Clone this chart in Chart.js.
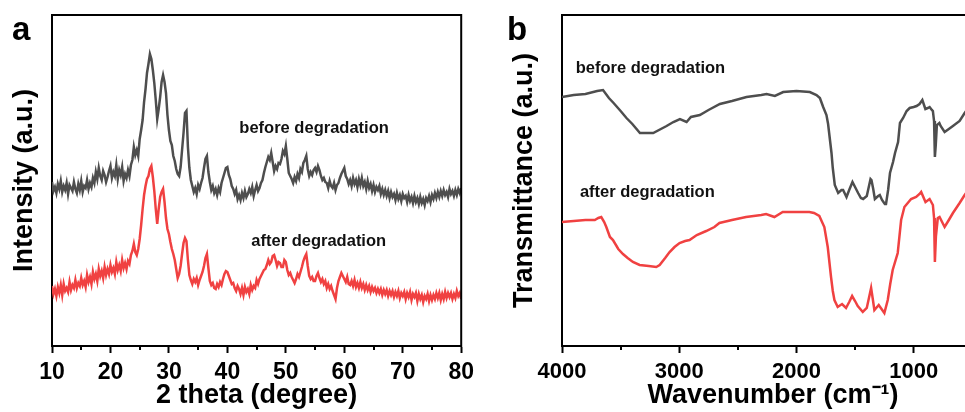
<!DOCTYPE html>
<html><head><meta charset="utf-8">
<script src="https://cdn.jsdelivr.net/npm/chart.js@4.4.0/dist/chart.umd.min.js"></script>
<style>
html,body{margin:0;padding:0;width:965px;height:412px;overflow:hidden;background:#fff;}
#ca{position:absolute;left:0;top:0;}
#cb{position:absolute;left:480px;top:0;}
</style></head><body>
<canvas id="ca" width="480" height="412"></canvas>
<canvas id="cb" width="520" height="412"></canvas>
<script>
// ---------- Panel a: XRD (2 theta sampled every 0.25 degree) ----------
const xrdTheta = [
10,10.25,10.5,10.75,11,11.25,11.5,11.75,12,12.25,12.5,12.75,13,13.25,13.5,13.75,14,14.25,14.5,14.75,
15,15.25,15.5,15.75,16,16.25,16.5,16.75,17,17.25,17.5,17.75,18,18.25,18.5,18.75,19,19.25,19.5,19.75,
20,20.25,20.5,20.75,21,21.25,21.5,21.75,22,22.25,22.5,22.75,23,23.25,23.5,23.75,24,24.25,24.5,24.75,
25,25.25,25.5,25.75,26,26.25,26.5,26.75,27,27.25,27.5,27.75,28,28.25,28.5,28.75,29,29.25,29.5,29.75,
30,30.25,30.5,30.75,31,31.25,31.5,31.75,32,32.25,32.5,32.75,33,33.25,33.5,33.75,34,34.25,34.5,34.75,
35,35.25,35.5,35.75,36,36.25,36.5,36.75,37,37.25,37.5,37.75,38,38.25,38.5,38.75,39,39.25,39.5,39.75,
40,40.25,40.5,40.75,41,41.25,41.5,41.75,42,42.25,42.5,42.75,43,43.25,43.5,43.75,44,44.25,44.5,44.75,
45,45.25,45.5,45.75,46,46.25,46.5,46.75,47,47.25,47.5,47.75,48,48.25,48.5,48.75,49,49.25,49.5,49.75,
50,50.25,50.5,50.75,51,51.25,51.5,51.75,52,52.25,52.5,52.75,53,53.25,53.5,53.75,54,54.25,54.5,54.75,
55,55.25,55.5,55.75,56,56.25,56.5,56.75,57,57.25,57.5,57.75,58,58.25,58.5,58.75,59,59.25,59.5,59.75,
60,60.25,60.5,60.75,61,61.25,61.5,61.75,62,62.25,62.5,62.75,63,63.25,63.5,63.75,64,64.25,64.5,64.75,
65,65.25,65.5,65.75,66,66.25,66.5,66.75,67,67.25,67.5,67.75,68,68.25,68.5,68.75,69,69.25,69.5,69.75,
70,70.25,70.5,70.75,71,71.25,71.5,71.75,72,72.25,72.5,72.75,73,73.25,73.5,73.75,74,74.25,74.5,74.75,
75,75.25,75.5,75.75,76,76.25,76.5,76.75,77,77.25,77.5,77.75,78,78.25,78.5,78.75,79,79.25,79.5,79.75,
80];
const xrdBefore = [
164,155,159,153, 162,157,165,154, 160,156,163,152, 161,158,155,164, 157,153,162,156,
165,154,160,158, 166,157,163,159, 168,163,174,167, 178,170,166,175, 171,164,169,175,
180,168,174,170, 181,167,176,171, 179,165,172,168, 176,170,181,186, 199,191,196,190,
207,216,226,244, 257,273,282,292, 287,276,263,246, 227,237,249,264, 271,264,253,231,
216,205,201,190, 185,177,172,170, 179,196,213,233, 235,199,178,166, 160,154,158,152,
161,157,163,168, 178,187,190,174, 164,156,160,153, 157,151,158,154, 163,168,173,178,
179,171,167,160, 157,152,156,147, 151,146,153,148, 155,149,152,157, 153,159,150,156,
161,155,158,163, 166,173,179,184, 189,186,193,184, 175,180,177,183, 182,187,195,192,
200,187,173,170, 167,163,169,165, 172,168,177,174, 183,186,190,177, 170,174,171,176,
178,174,180,176, 170,166,168,164, 163,158,165,160, 158,163,156,161, 163,168,172,175,
178,170,167,162, 166,160,168,162, 166,159,167,161, 168,160,164,157, 165,158,162,155,
161,154,159,156, 160,152,157,151, 156,150,155,148, 154,149,152,146, 153,147,151,145,
152,148,150,144, 151,145,149,143, 150,144,148,142, 149,143,147,141, 148,145,150,144,
151,147,153,148, 154,149,155,150, 156,151,154,149, 157,152,155,150, 156,151,157,153,
158];
const xrdAfter = [
60,52,57,50, 59,53,61,51, 62,55,58,54, 64,56,61,58, 66,58,63,60,
68,61,65,59, 71,64,69,62, 74,67,72,65, 77,70,75,68, 79,71,77,72,
81,74,78,72, 84,76,81,75, 86,78,83,77, 85,82,91,95, 102,94,91,97,
107,121,137,151, 160,167,170,177, 180,169,155,137, 122,137,149,154, 157,144,128,117,
112,104,97,92, 86,77,68,72, 80,92,103,108, 105,86,71,66, 62,67,64,68,
61,66,70,74, 80,88,92,78, 65,61,63,58, 57,62,59,64, 61,67,72,75,
74,70,66,62, 63,58,55,60, 57,52,58,51, 59,54,57,52, 61,56,60,58,
66,62,67,70, 73,76,77,81, 86,82,84,90, 91,86,80,84, 83,79,79,86,
84,76,71,73, 69,66,63,67, 72,69,74,79, 85,89,92,80, 70,67,69,65,
65,70,73,68, 64,67,62,65, 58,62,57,60, 55,51,47,58, 65,69,73,70,
67,64,69,62, 61,65,60,66, 59,63,58,64, 58,62,56,61, 56,60,54,59,
55,58,53,57, 53,57,51,56, 52,56,50,55, 51,55,49,54, 50,55,48,53,
50,54,47,53, 49,54,46,52, 49,53,45,52, 47,51,44,50, 47,52,45,51,
46,51,47,53, 48,53,46,52, 47,54,48,53, 49,53,47,52, 48,55,50,53,
47];
const xrdTicks = [10,20,30,40,50,60,70,80];
const xrdMinorTicks = [15,25,35,45,55,65,75];

// ---------- Panel b: FTIR ----------
const ftirWaveBefore = [4000,3900,3800,3700,3650,3600,3560,3500,3450,3400,3335,3222,3108,3050,2994,2937,2900,2824,2750,2653,
2550,2426,2300,2255,2184,2113,2000,1886,1829,1800,1772,1744,1730,1701,1690,1673,1644,1616,1602,1573,
1550,1522,1500,1474,1450,1431,1400,1368,1360,1345,1331,1303,1289,1270,1246,1236,1218,1202,1176,1159,
1133,1117,1090,1060,1034,1000,975,950,926,900,880,864,845,836,826,819,812,802,781,770,
736,700,665,608,565,540];
const ftirBefore = [249,251,252,255,256,248,243,235,228,222,213,213,220,224,227,224,229,231,236,242,
245,249,251,252,250,254,255,254,251,248,239,231,222,193,178,161,153,156,156,149,
156,164,159,153,148,147,150,167,166,157,147,150,151,146,142,142,156,173,184,193,
204,223,228,235,238,239,240,242,246,237,238,239,236,235,225,189,200,221,223,220,
214,217,220,225,233,237];
const ftirWaveAfter = [4000,3900,3800,3720,3690,3665,3640,3622,3591,3565,3520,3480,3440,3395,3338,3260,3196,3167,3120,3082,
3040,2997,2950,2912,2850,2770,2700,2657,2550,2430,2300,2259,2188,2117,2000,1890,1850,1805,1762,1733,
1705,1690,1676,1648,1611,1577,1550,1525,1500,1477,1434,1400,1363,1350,1335,1298,1250,1221,1200,1179,
1136,1107,1079,1022,979,950,936,899,864,836,826,819,810,794,779,736,700,665,608,565,540];
const ftirAfter = [124,125,126,126,128,129,124,119,109,106,97,92,88,84,81,80,79,81,88,94,
99,103,105,106,111,115,119,123,126,129,131,132,129,134,134,134,133,130,119,99,
69,55,46,39,42,38,44,50,45,40,34,38,58,48,36,41,33,46,62,76,
93,126,139,147,149,152,154,144,147,141,128,84,110,128,129,119,126,133,143,151,155];
const ftirTicks = [4000,3000,2000,1000];
const ftirMinorTicks = [3500,2500,1500,500];

const FONT = '"Liberation Sans", Arial, Helvetica, sans-serif';
const GRAY = '#4e4e4e';
const RED = '#f04141';
Chart.defaults.font.family = FONT;
Chart.defaults.color = '#000';

const decor = {
  id: 'decor',
  afterDraw(chart, args, o) {
    const ctx = chart.ctx;
    const {left, top, right, bottom} = chart.chartArea;
    const xs = chart.scales.x, ys = chart.scales.y;
    ctx.save();
    ctx.strokeStyle = '#000';
    ctx.lineWidth = 2;
    ctx.beginPath();
    ctx.moveTo(left - 1, top);
    ctx.lineTo(right, top);
    ctx.lineTo(right, bottom + 1);
    ctx.stroke();
    ctx.beginPath();
    o.minor.forEach(v => {
      const px = Math.round(xs.getPixelForValue(v));
      ctx.moveTo(px, bottom);
      ctx.lineTo(px, bottom + 4);
    });
    ctx.stroke();
    ctx.fillStyle = '#111';
    ctx.textAlign = 'left';
    ctx.textBaseline = 'alphabetic';
    ctx.font = 'bold 16.5px ' + FONT;
    o.labels.forEach(l => ctx.fillText(l.text, xs.getPixelForValue(l.x), ys.getPixelForValue(l.y)));
    ctx.fillStyle = '#000';
    ctx.font = 'bold 33px ' + FONT;
    ctx.fillText(o.letter, o.letterX, o.letterY);
    ctx.restore();
  }
};

function makeChart(id, cfg) {
  return new Chart(document.getElementById(id), {
    type: 'line',
    data: {datasets: cfg.datasets},
    options: {
      responsive: false,
      animation: false,
      devicePixelRatio: 1,
      layout: {padding: {left: 0, top: 15, right: cfg.padRight, bottom: 0}},
      elements: {point: {radius: 0}, line: {tension: 0}},
      plugins: {legend: {display: false}, tooltip: {enabled: false}, decor: cfg.decor},
      scales: {
        x: {
          type: 'linear',
          min: cfg.xmin, max: cfg.xmax, reverse: cfg.reverse,
          afterBuildTicks: s => { s.ticks = cfg.ticks.map(v => ({value: v})); },
          afterFit: s => { s.height = 66; },
          border: {display: true, color: '#000', width: 2},
          grid: {display: true, drawOnChartArea: false, drawTicks: true, tickLength: 7, tickWidth: 2, tickColor: '#000'},
          ticks: {font: {size: cfg.tickSize, weight: 'bold'}, color: '#000', padding: 6, maxRotation: 0, autoSkip: false,
                  callback: v => String(v)},
          title: {display: true, text: cfg.xTitle, font: {size: 27, weight: 'bold'}, color: '#000', padding: {top: 0, bottom: 0}}
        },
        y: {
          type: 'linear', min: 0, max: 331,
          afterFit: s => { s.width = cfg.yWidth; },
          border: {display: true, color: '#000', width: 2},
          grid: {display: true, drawOnChartArea: false, drawTicks: false},
          ticks: {display: false},
          title: {display: true, text: cfg.yTitle, font: {size: 27, weight: 'bold'}, color: '#000', padding: {top: cfg.yTitlePad, bottom: 0}}
        }
      }
    },
    plugins: [decor]
  });
}

makeChart('ca', {
  datasets: [
    {data: xrdTheta.map((t, i) => ({x: t, y: xrdBefore[i]})), borderColor: GRAY, borderWidth: 2.5},
    {data: xrdTheta.map((t, i) => ({x: t, y: xrdAfter[i]})), borderColor: RED, borderWidth: 2.5}
  ],
  xmin: 10, xmax: 80, reverse: false, ticks: xrdTicks, tickSize: 23,
  padRight: 17, yWidth: 52, yTitlePad: 8,
  xTitle: '2 theta (degree)', yTitle: 'Intensity (a.u.)',
  decor: {
    minor: xrdMinorTicks, letter: 'a', letterX: 12, letterY: 40,
    labels: [
      {text: 'before degradation', x: 42.05, y: 213},
      {text: 'after degradation', x: 44.1, y: 100}
    ]
  }
});

makeChart('cb', {
  datasets: [
    {data: ftirWaveBefore.map((w, i) => ({x: w, y: ftirBefore[i]})), borderColor: GRAY, borderWidth: 2.5},
    {data: ftirWaveAfter.map((w, i) => ({x: w, y: ftirAfter[i]})), borderColor: RED, borderWidth: 2.5}
  ],
  xmin: 400, xmax: 4000, reverse: true, ticks: ftirTicks, tickSize: 22,
  padRight: 16, yWidth: 82, yTitlePad: 28,
  xTitle: 'Wavenumber (cm\u207B\u00B9)', yTitle: 'Transmittance (a.u.)',
  decor: {
    minor: ftirMinorTicks, letter: 'b', letterX: 27, letterY: 40,
    labels: [
      {text: 'before degradation', x: 3883, y: 273},
      {text: 'after degradation', x: 3847, y: 149}
    ]
  }
});
</script>
</body></html>
